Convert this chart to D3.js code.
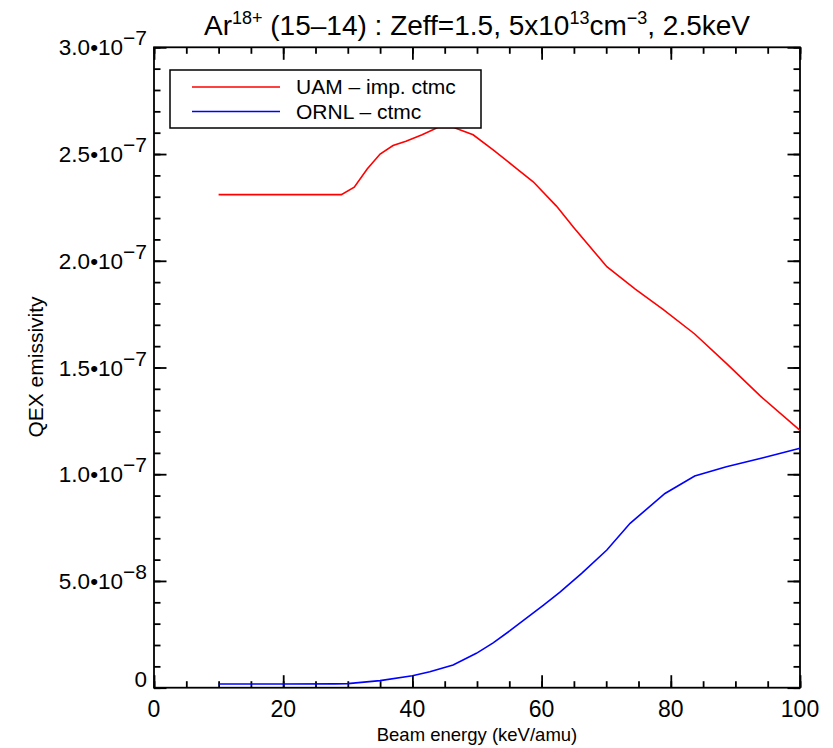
<!DOCTYPE html>
<html>
<head>
<meta charset="utf-8">
<script src="https://cdn.jsdelivr.net/npm/d3@7"></script>
<style>
  body { margin: 0; background: #fff; }
  svg { display: block; }
  text { font-family: "Liberation Sans", Arial, Helvetica, sans-serif; fill: #000; }
</style>
</head>
<body>
<svg width="833" height="748"></svg>
<script>
// data (x in keV/amu, y in emissivity)
var uamX = [10, 29, 31, 33, 35, 37, 39, 41.5, 44, 46.3, 49.4, 52.5, 55.6, 58.7, 62.3, 65, 70.1, 74.5, 78.8, 83.7, 88.6, 93.8, 100];
var uamY = [2.31e-7, 2.31e-7, 2.345e-7, 2.43e-7, 2.50e-7, 2.54e-7, 2.56e-7, 2.59e-7, 2.625e-7, 2.625e-7, 2.59e-7, 2.52e-7,
            2.445e-7, 2.37e-7, 2.256e-7, 2.155e-7, 1.972e-7, 1.867e-7, 1.772e-7, 1.657e-7, 1.519e-7, 1.368e-7, 1.205e-7];

var ornlX = [10, 20, 28, 30, 35, 40, 42.7, 46.3, 49.9, 52.5, 55.1, 60.3, 62.8, 66.2, 70.1, 73.7, 79.1, 83.7, 88.6, 94.3, 100];
var ornlY = [0.017e-7, 0.017e-7, 0.018e-7, 0.019e-7, 0.033e-7, 0.056e-7, 0.075e-7, 0.106e-7, 0.161e-7, 0.21e-7, 0.267e-7,
             0.387e-7, 0.447e-7, 0.536e-7, 0.645e-7, 0.770e-7, 0.910e-7, 0.992e-7, 1.035e-7, 1.077e-7, 1.122e-7];

var seriesNames = ['UAM \u2013 imp. ctmc', 'ORNL \u2013 ctmc'];
var seriesColors = ['#ff0000', '#0000ff'];

var xTicks = [0, 20, 40, 60, 80, 100];
var yTicks = [0, 5e-8, 1e-7, 1.5e-7, 2e-7, 2.5e-7, 3e-7];
var yTickMant = ['0', '5.0', '1.0', '1.5', '2.0', '2.5', '3.0'];
var yTickExp = ['', '\u22128', '\u22127', '\u22127', '\u22127', '\u22127', '\u22127'];

var svg = d3.select('svg');

var plot = {l: 154, r: 800, t: 47.3, b: 687.7};

var x = d3.scaleLinear().domain([0, 100]).range([plot.l, plot.r]);
var y = d3.scaleLinear().domain([0, 3e-7]).range([plot.b, plot.t]);

var xMinor = d3.range(0, 100.01, 5);
var yMinor = d3.range(0, 3.001e-7, 1e-8);

// ticks on all four sides, pointing inward
function tickAxis(axis, scale, vals, size, transform) {
    svg.append('g')
        .attr('transform', transform)
        .call(axis(scale).tickValues(vals).tickSize(size).tickFormat(''))
        .call(function(g) {
            g.select('.domain').remove();
            g.selectAll('line').attr('stroke', '#000').attr('stroke-width', 1.8);
        });
}
tickAxis(d3.axisBottom, x, xMinor, -6.5, 'translate(0,' + plot.b + ')');
tickAxis(d3.axisBottom, x, xTicks, -12.5, 'translate(0,' + plot.b + ')');
tickAxis(d3.axisTop, x, xMinor, -6.5, 'translate(0,' + plot.t + ')');
tickAxis(d3.axisTop, x, xTicks, -12.5, 'translate(0,' + plot.t + ')');
tickAxis(d3.axisLeft, y, yMinor, -6.5, 'translate(' + plot.l + ',0)');
tickAxis(d3.axisLeft, y, yTicks, -12.5, 'translate(' + plot.l + ',0)');
tickAxis(d3.axisRight, y, yMinor, -6.5, 'translate(' + plot.r + ',0)');
tickAxis(d3.axisRight, y, yTicks, -12.5, 'translate(' + plot.r + ',0)');

// frame
svg.append('rect')
    .attr('x', plot.l).attr('y', plot.t)
    .attr('width', plot.r - plot.l).attr('height', plot.b - plot.t)
    .attr('fill', 'none').attr('stroke', '#000').attr('stroke-width', 1.8);

// x tick labels
svg.append('g').selectAll('text')
    .data(xTicks)
    .enter().append('text')
    .attr('x', function(d) { return x(d); })
    .attr('y', 717)
    .attr('text-anchor', 'middle')
    .style('font-size', '23px')
    .text(function(d) { return d; });

// y tick labels, mantissa + raised exponent
var yl = svg.append('g').selectAll('text')
    .data(yTicks)
    .enter().append('text')
    .attr('x', 147)
    .attr('y', function(d, i) { return i == 0 ? y(d) - 0.5 : y(d) + 8; })
    .attr('text-anchor', 'end')
    .style('font-size', '22.5px');
yl.append('tspan')
    .text(function(d, i) { return yTickMant[i] == '0' ? '0' : yTickMant[i] + '\u2022' + '10'; });
yl.append('tspan')
    .attr('dy', -10)
    .style('font-size', '21px')
    .text(function(d, i) { return yTickExp[i]; });

// curves
var line = d3.line()
    .x(function(d) { return x(d[0]); })
    .y(function(d) { return y(d[1]); });

var series = [d3.zip(uamX, uamY), d3.zip(ornlX, ornlY)];
svg.append('g').selectAll('path')
    .data(series)
    .enter().append('path')
    .attr('d', line)
    .attr('fill', 'none')
    .attr('stroke', function(d, i) { return seriesColors[i]; })
    .attr('stroke-width', 1.6);

// legend
var leg = svg.append('g');
leg.append('rect')
    .attr('x', 170).attr('y', 70)
    .attr('width', 311).attr('height', 58)
    .attr('fill', '#fff').attr('stroke', '#000').attr('stroke-width', 1.5);
var item = leg.selectAll('.item')
    .data(seriesNames)
    .enter().append('g')
    .attr('class', 'item')
    .attr('transform', function(d, i) { return 'translate(0,' + (87 + 24.5 * i) + ')'; });
item.append('line')
    .attr('x1', 192).attr('x2', 280)
    .attr('stroke', function(d, i) { return seriesColors[i]; })
    .attr('stroke-width', 1.4);
item.append('text')
    .attr('x', 296).attr('y', 7)
    .style('font-size', '21px')
    .text(function(d) { return d; });

// title
var title = svg.append('text')
    .attr('x', 477).attr('y', 35)
    .attr('text-anchor', 'middle')
    .style('font-size', '28px');
title.append('tspan').text('Ar');
title.append('tspan').attr('dy', -11).style('font-size', '18px').text('18+');
title.append('tspan').attr('dy', 11).text(' (15\u201314) : Zeff=1.5, 5x10');
title.append('tspan').attr('dy', -11).style('font-size', '18px').text('13');
title.append('tspan').attr('dy', 11).text('cm');
title.append('tspan').attr('dy', -11).style('font-size', '18px').text('\u22123');
title.append('tspan').attr('dy', 11).text(', 2.5keV');

// axis titles
svg.append('text')
    .attr('x', 477).attr('y', 741)
    .attr('text-anchor', 'middle')
    .style('font-size', '18.5px')
    .text('Beam energy (keV/amu)');

svg.append('text')
    .attr('transform', 'translate(43,367) rotate(-90)')
    .attr('text-anchor', 'middle')
    .style('font-size', '21px')
    .text('QEX emissivity');
</script>
</body>
</html>
